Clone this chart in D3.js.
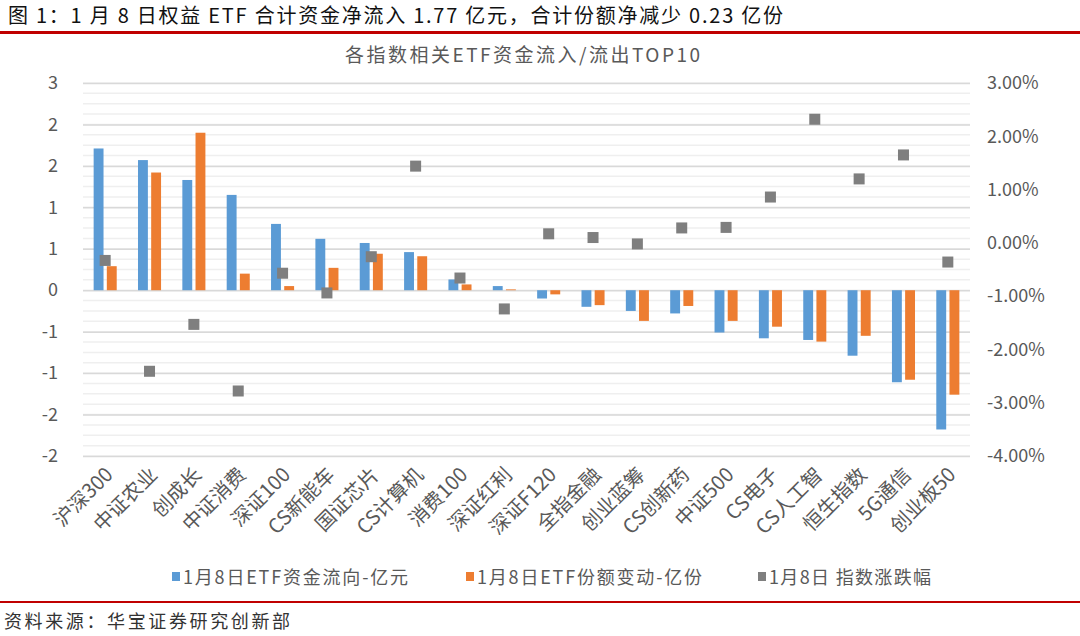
<!DOCTYPE html>
<html>
<head>
<meta charset="utf-8">
<script src="https://cdn.jsdelivr.net/npm/d3@7"></script>
<style>
  html, body { margin: 0; padding: 0; background: #fff; }
  svg { display: block; }
  text { font-family: "Noto Sans CJK SC", "Liberation Sans", sans-serif; }
</style>
</head>
<body>
<svg id="chart" width="1080" height="636"></svg>
<script>
const categories = ["沪深300","中证农业","创成长","中证消费","深证100","CS新能车","国证芯片","CS计算机","消费100","深证红利","深证F120","全指金融","创业蓝筹","CS创新药","中证500","CS电子","CS人工智","恒生指数","5G通信","创业板50"];
const flowValues  = [1.71, 1.57, 1.33, 1.15, 0.80, 0.62, 0.57, 0.46, 0.13, 0.05, -0.10, -0.20, -0.25, -0.28, -0.51, -0.58, -0.60, -0.79, -1.11, -1.68];
const shareValues = [0.29, 1.42, 1.90, 0.20, 0.05, 0.27, 0.44, 0.41, 0.07, 0.01, -0.05, -0.18, -0.37, -0.19, -0.37, -0.44, -0.62, -0.55, -1.08, -1.26];
const indexChange = [-0.33, -2.41, -1.53, -2.78, -0.57, -0.94, -0.26, 1.44, -0.66, -1.24, 0.17, 0.10, -0.02, 0.28, 0.29, 0.86, 2.32, 1.20, 1.65, -0.36];
const leftTickValues = [-2, -1.5, -1, -0.5, 0, 0.5, 1, 1.5, 2, 2.5];
const leftTickLabels = ["-2", "-2", "-1", "-1", "0", "1", "1", "2", "2", "3"];
const rightTickValues = [-4, -3, -2, -1, 0, 1, 2, 3];
const seriesNames = ["1月8日ETF资金流向-亿元", "1月8日ETF份额变动-亿份", "1月8日 指数涨跌幅"];
const mainTitle = "图 1：1 月 8 日权益 ETF 合计资金净流入 1.77 亿元，合计份额净减少 0.23 亿份";
const chartTitle = "各指数相关ETF资金流入/流出TOP10";
const sourceText = "资料来源：华宝证券研究创新部";

const colors = ["#5b9bd5", "#ed7d31", "#7f7f7f"];
const textColor = "#595959";

const svg = d3.select("#chart");
const plot = { left: 83, right: 970, top: 83, bottom: 456 };

const x = d3.scaleBand().domain(categories).range([plot.left, plot.right]).padding(0);
const bw = x.bandwidth();
const x1 = d3.scaleBand().domain(["flow", "share"]).range([bw * 0.24, bw * 0.76]).paddingInner(0.25);
const yL = d3.scaleLinear().domain([-2, 2.5]).range([plot.bottom, plot.top]);
const yR = d3.scaleLinear().domain([-4, 3]).range([plot.bottom, plot.top]);

const pctFmt = d3.formatLocale({ decimal: ".", thousands: ",", grouping: [3], currency: ["", ""], minus: "-" }).format(".2f");

// Header
svg.append("text").attr("x", 8).attr("y", 23).attr("font-size", 20).attr("fill", "#111")
  .attr("textLength", 775).attr("lengthAdjust", "spacing").text(mainTitle);
svg.append("rect").attr("x", 0).attr("y", 31).attr("width", 1080).attr("height", 3).attr("fill", "#c00000");

svg.append("text").attr("x", 345).attr("y", 62).attr("font-size", 19).attr("fill", textColor)
  .attr("textLength", 355).attr("lengthAdjust", "spacing").text(chartTitle);

// Gridlines: minor
const minorTicks = d3.range(-2, 2.5001, 0.125);
svg.append("g").selectAll("line").data(minorTicks).join("line")
  .attr("x1", plot.left).attr("x2", plot.right)
  .attr("y1", d => yL(d)).attr("y2", d => yL(d))
  .attr("stroke", "#efefef").attr("stroke-width", 1.5);
// Major gridlines (left axis)
const yAxisL = d3.axisLeft(yL).tickValues(leftTickValues)
  .tickFormat((d, i) => leftTickLabels[i]).tickSize(-(plot.right - plot.left)).tickPadding(25);
const gL = svg.append("g").attr("transform", `translate(${plot.left},0)`).call(yAxisL);
gL.select(".domain").remove();
gL.selectAll(".tick line").attr("stroke", "#d9d9d9").attr("stroke-width", 1.5);
gL.selectAll(".tick text").attr("font-size", 18).attr("fill", textColor).attr("font-family", "Liberation Sans, Arial, sans-serif");

// Right axis
const yAxisR = d3.axisRight(yR).tickValues(rightTickValues).tickFormat(d => pctFmt(d) + "%").tickSize(0).tickPadding(17);
const gR = svg.append("g").attr("transform", `translate(${plot.right},0)`).call(yAxisR);
gR.select(".domain").remove();
gR.selectAll(".tick text").attr("font-size", 18).attr("fill", textColor).attr("font-family", "Liberation Sans, Arial, sans-serif");

// Bars
const groups = svg.append("g").selectAll("g").data(categories).join("g")
  .attr("transform", d => `translate(${x(d)},0)`);
groups.append("rect")
  .attr("x", x1("flow")).attr("width", x1.bandwidth())
  .attr("y", (d, i) => Math.min(yL(flowValues[i]), yL(0)))
  .attr("height", (d, i) => Math.abs(yL(flowValues[i]) - yL(0)))
  .attr("fill", colors[0]);
groups.append("rect")
  .attr("x", x1("share")).attr("width", x1.bandwidth())
  .attr("y", (d, i) => Math.min(yL(shareValues[i]), yL(0)))
  .attr("height", (d, i) => Math.abs(yL(shareValues[i]) - yL(0)))
  .attr("fill", colors[1]);
// Markers
const ms = 11;
groups.append("rect")
  .attr("x", bw / 2 - ms / 2).attr("width", ms).attr("height", ms)
  .attr("y", (d, i) => yR(indexChange[i]) - ms / 2)
  .attr("fill", colors[2]);

// X labels
const xAxis = d3.axisBottom(x).tickSize(0).tickPadding(0);
const gX = svg.append("g").attr("transform", `translate(0,${plot.bottom})`).call(xAxis);
gX.select(".domain").remove();
gX.selectAll(".tick text")
  .attr("font-size", 20).attr("fill", textColor)
  .attr("text-anchor", "end").attr("dy", 0).attr("y", 0)
  .attr("transform", "translate(9,20) rotate(-45)");

// Legend
const legendX = [172, 466, 758];
const legendLen = [225, 225, 162];
const lg = svg.append("g").selectAll("g").data(seriesNames).join("g")
  .attr("transform", (d, i) => `translate(${legendX[i]},577)`);
lg.append("rect").attr("x", 0).attr("y", -5).attr("width", 8).attr("height", 9).attr("fill", (d, i) => colors[i]);
lg.append("text").attr("x", 11).attr("y", 7).attr("font-size", 18).attr("fill", textColor)
  .attr("textLength", (d, i) => legendLen[i]).attr("lengthAdjust", "spacing").text(d => d);

// Footer
svg.append("rect").attr("x", 0).attr("y", 601).attr("width", 1080).attr("height", 2).attr("fill", "#c00000");
svg.append("text").attr("x", 4).attr("y", 628).attr("font-size", 18).attr("fill", "#333")
  .attr("textLength", 286).attr("lengthAdjust", "spacing").text(sourceText);
</script>
</body>
</html>
